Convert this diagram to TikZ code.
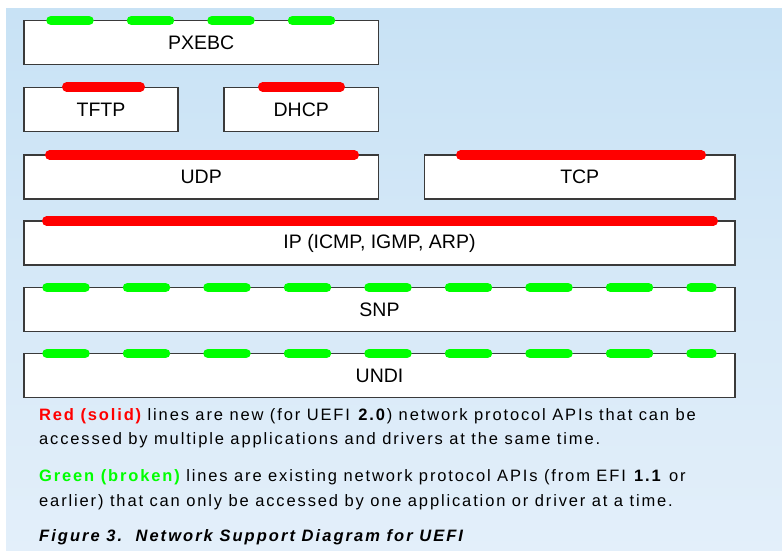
\documentclass[tikz,border=0pt]{standalone}
\usepackage{fontspec}
\setmainfont{Liberation Sans}
\newfontfamily\notefont[LetterSpace=11.3]{Liberation Sans}
\newfontfamily\capfont[LetterSpace=12.4]{Liberation Sans}
\definecolor{bgtop}{HTML}{C8E2F5}
\definecolor{bgbottom}{HTML}{E3EFFA}
\definecolor{boxline}{HTML}{3A3A3A}
\definecolor{apired}{HTML}{FF0000}
\definecolor{apigreen}{HTML}{00FF00}
\begin{document}
\begin{tikzpicture}[x=1pt,y=-1pt,
  layer/.style={draw=boxline, line width=1.2pt, fill=white, inner sep=0pt,
    minimum height=44pt, font=\fontsize{19.5}{23}\selectfont},
  newapi/.style={draw=apired, line width=9.5pt, line cap=round},
  oldapi/.style={draw=apigreen, line width=9.5pt, line cap=round,
    dash pattern=on 38pt off 42.5pt},
  note/.style={anchor=base west, inner sep=0pt, font=\notefont\fontsize{16.5}{20}\selectfont}]
\useasboundingbox (0,0) rectangle (782,550);
% backdrop
\shade[top color=bgtop, bottom color=bgbottom] (6,8) rectangle (782,550);

% protocol layers
\node[layer, minimum width=354.5pt] (pxebc) at (201.25,42.5) {PXEBC};
\node[layer, minimum width=154pt] (tftp) at (101,109.3) {TFTP};
\node[layer, minimum width=154.5pt] (dhcp) at (301.25,109.3) {DHCP};
\node[layer, minimum width=354.5pt] (udp) at (201.25,177) {UDP};
\node[layer, minimum width=310.5pt] (tcp) at (579.75,177) {TCP};
\node[layer, minimum width=711pt] (ip) at (379.5,243) {IP (ICMP, IGMP, ARP)};
\node[layer, minimum width=711pt] (snp) at (379.5,309.4) {SNP};
\node[layer, minimum width=711pt] (undi) at (379.5,375.6) {UNDI};

% existing single-user APIs
\draw[oldapi] (51,20.5) -- (334,20.5);
\draw[oldapi] (47,287.5) -- (712,287.5);
\draw[oldapi] (47,353.5) -- (712,353.5);

% new shared APIs
\draw[newapi] (66.75,86.8) -- (140.25,86.8);
\draw[newapi] (262.75,86.8) -- (340.25,86.8);
\draw[newapi] (49.75,155) -- (354.25,155);
\draw[newapi] (460.75,155) -- (701.25,155);
\draw[newapi] (46.75,221) -- (713.25,221);

% legend and caption
\node[note] (l1) at (39,420) {{\color{apired}\bfseries Red (solid)} lines are new (for UEFI \textbf{2.0}) network protocol APIs that can be};
\node[note] (l2) at (39,444) {accessed by multiple applications and drivers at the same time.};
\node[note] (l3) at (39,481) {{\color{apigreen}\bfseries Green (broken)} lines are existing network protocol APIs (from EFI \textbf{1.1} or};
\node[note] (l4) at (39,506) {earlier) that can only be accessed by one application or driver at a time.};
\node[note, font=\capfont\fontsize{16.5}{20}\selectfont] (cap) at (39,541.5) {\bfseries\itshape Figure 3.\ \ Network Support Diagram for UEFI};
\end{tikzpicture}
\end{document}
